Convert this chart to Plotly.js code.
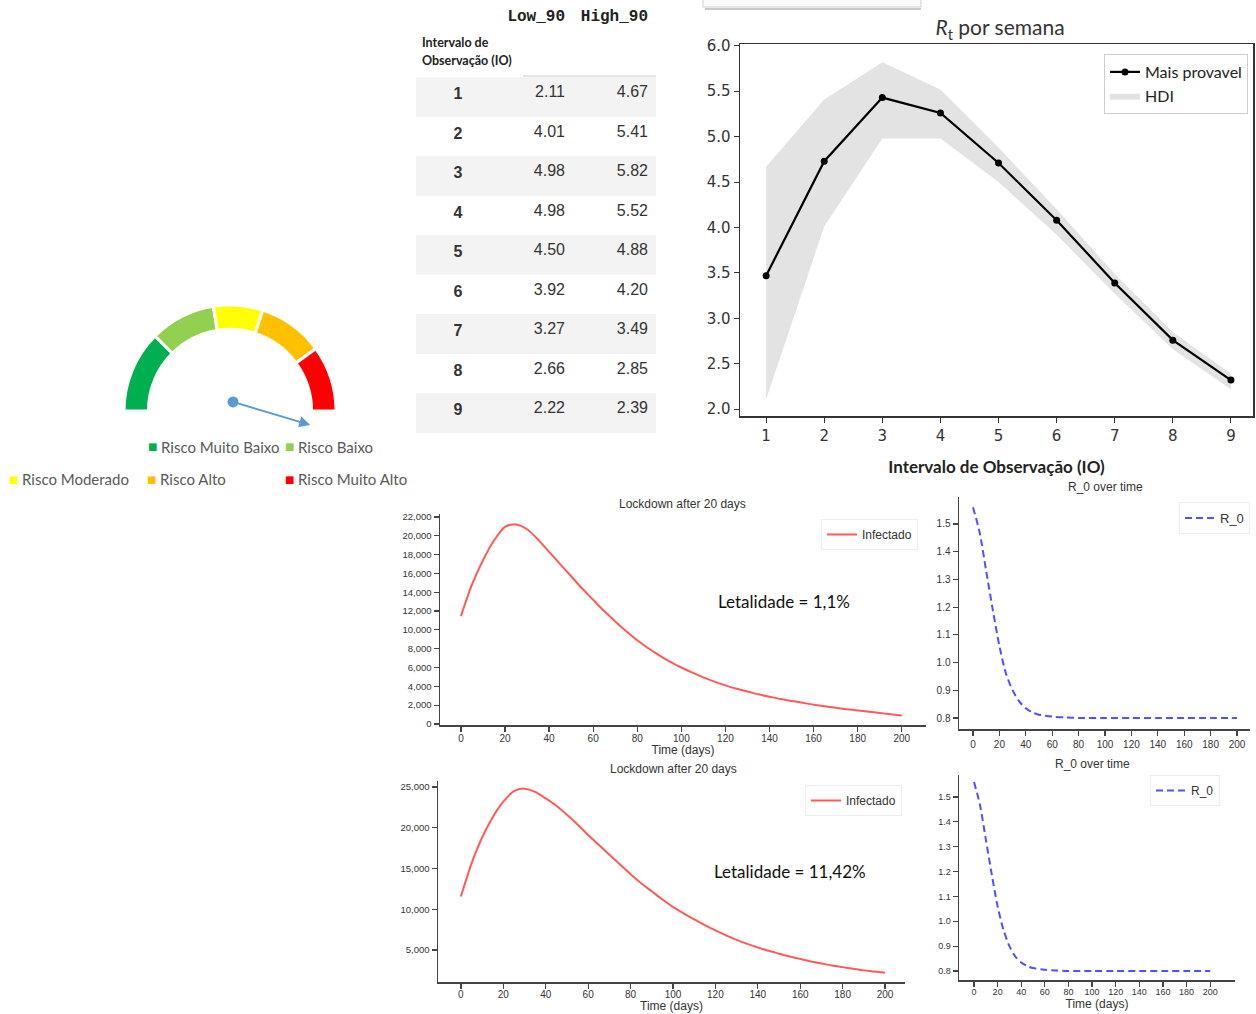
<!DOCTYPE html>
<html><head><meta charset="utf-8">
<script src="https://cdn.plot.ly/plotly-3.0.1.min.js"></script>
<style>html,body{margin:0;padding:0;background:#fff;} #chart{width:1256px;height:1014px;}</style>
</head><body><div id="chart"></div>
<script>
// ---------------- data ----------------
const ioIntervals = [1,2,3,4,5,6,7,8,9];
const low90  = [2.11,4.01,4.98,4.98,4.50,3.92,3.27,2.66,2.22];
const high90 = [4.67,5.41,5.82,5.52,4.88,4.20,3.49,2.85,2.39];
const rtMostLikely = [3.47,4.73,5.43,5.26,4.71,4.08,3.39,2.76,2.32];
const tableColumns = ['Low_90','High_90'];
const indexNameLines = ['Intervalo de','Observação (IO)'];

const infDays = [0,5,10,15,20,25,30,35,40,45,50,55,60,65,70,75,80,85,90,95,100,105,110,115,120,125,130,135,140,145,150,155,160,165,170,175,180,185,190,195,200];
const infected1 = [11460,14800,17400,19500,20950,21200,20700,19600,18300,17000,15700,14400,13200,12000,10900,9850,8900,8050,7300,6600,6000,5450,4950,4500,4100,3750,3450,3150,2900,2650,2450,2250,2050,1880,1720,1570,1440,1300,1170,1030,900];
const infected2 = [11560,15600,18800,21300,23200,24500,24800,24400,23600,22700,21600,20400,19100,17900,16700,15500,14300,13200,12200,11200,10300,9500,8750,8050,7400,6800,6250,5750,5300,4900,4550,4200,3900,3600,3350,3100,2900,2700,2500,2350,2200];

const r0Days = [0,5,10,15,20,25,30,35,40,45,50,60,70,80,100,120,140,160,180,200];
const r0Series1 = [1.56,1.47,1.33,1.19,1.06,0.96,0.90,0.86,0.835,0.82,0.812,0.805,0.802,0.80,0.80,0.80,0.80,0.80,0.80,0.80];
const r0Series2 = [1.56,1.47,1.33,1.19,1.06,0.965,0.90,0.858,0.834,0.82,0.812,0.805,0.802,0.80,0.80,0.80,0.80,0.80,0.80,0.80];
const dayTicks = [0,20,40,60,80,100,120,140,160,180,200];

const lethality1 = 'Letalidade = 1,1%';
const lethality2 = 'Letalidade = 11,42%';

const gaugeLabels = ['Risco Muito Baixo','Risco Baixo','Risco Moderado','Risco Alto','Risco Muito Alto'];
const gaugeShares = [25,20,15,20,20];
const gaugeColors = ['#00b050','#92d050','#ffff00','#ffc000','#ff0000'];
const needleAngleDeg = -16.6;

// ---------------- helpers ----------------
const W = 1256, H = 1014;
const px = v => v / W;
const py = v => 1 - v / H;
const sansFam = 'Liberation Sans, Arial, sans-serif';

function smallAxis(domain, range, extra) {
  return Object.assign({
    domain: domain, range: range, showline: true, linecolor: '#444', linewidth: 1.5,
    ticks: 'outside', ticklen: 5, tickcolor: '#444', tickwidth: 1.2, showgrid: false, zeroline: false,
    automargin: false, fixedrange: true,
    tickfont: {family: sansFam, size: 10, color: '#333'}
  }, extra);
}

const traces = [];

// table
const rowFill = ioIntervals.map((_, i) => i % 2 === 0 ? '#f3f3f3' : '#ffffff');
traces.push({
  type: 'table',
  domain: {x: [px(416), px(656)], y: [py(433), 1]},
  columnwidth: [84, 73, 83],
  header: {
    values: ['', '<b>' + tableColumns[0] + '</b>', '<b>' + tableColumns[1] + '</b>'],
    align: ['left', 'right', 'right'],
    height: 77,
    fill: {color: '#ffffff'},
    line: {color: '#ffffff', width: 0},
    font: {family: 'Liberation Mono, Courier New, monospace', size: 16, color: '#222'}
  },
  cells: {
    values: [ioIntervals.map(v => '<b>' + v + '</b>'), low90.map(v => v.toFixed(2)), high90.map(v => v.toFixed(2))],
    align: ['center', 'right', 'right'],
    height: 39.55,
    fill: {color: [rowFill, rowFill, rowFill]},
    line: {color: 'rgba(0,0,0,0)', width: 0},
    font: {family: sansFam, size: 16, color: '#333'}
  }
});

// Rt chart
traces.push({x: ioIntervals, y: low90, type: 'scatter', mode: 'lines', line: {width: 0, color: '#e2e2e2'}, showlegend: false, hoverinfo: 'skip', xaxis: 'x', yaxis: 'y'});
traces.push({x: ioIntervals, y: high90, type: 'scatter', mode: 'lines', fill: 'tonexty', fillcolor: '#e3e3e3', line: {width: 0, color: '#e3e3e3'}, name: 'HDI', legendrank: 2, xaxis: 'x', yaxis: 'y'});
traces.push({x: ioIntervals, y: rtMostLikely, type: 'scatter', mode: 'lines+markers', line: {color: '#000', width: 2.2}, marker: {color: '#000', size: 7}, name: 'Mais provavel', legendrank: 1, xaxis: 'x', yaxis: 'y'});

// lockdown charts
traces.push({x: infDays, y: infected1, type: 'scatter', mode: 'lines', line: {color: '#ff5a5a', width: 2, shape: 'spline', smoothing: 0.8}, name: 'Infectado', xaxis: 'x2', yaxis: 'y2', legend: 'legend2'});
traces.push({x: r0Days, y: r0Series1, type: 'scatter', mode: 'lines', line: {color: '#5050ff', width: 2, dash: '7px,4px', shape: 'spline', smoothing: 0.8}, name: 'R_0', xaxis: 'x3', yaxis: 'y3', legend: 'legend3'});
traces.push({x: infDays, y: infected2, type: 'scatter', mode: 'lines', line: {color: '#ff5a5a', width: 2, shape: 'spline', smoothing: 0.8}, name: 'Infectado', xaxis: 'x4', yaxis: 'y4', legend: 'legend4'});
traces.push({x: r0Days, y: r0Series2, type: 'scatter', mode: 'lines', line: {color: '#5050ff', width: 2, dash: '7px,4px', shape: 'spline', smoothing: 0.8}, name: 'R_0', xaxis: 'x5', yaxis: 'y5', legend: 'legend5'});

// gauge
const gaugeTotal = gaugeShares.reduce((a, b) => a + b, 0);
traces.push({
  type: 'pie', labels: gaugeLabels.concat(['']), values: gaugeShares.concat([gaugeTotal]),
  marker: {colors: gaugeColors.concat(['rgba(255,255,255,0)']), line: {color: gaugeColors.map(() => '#ffffff').concat(['rgba(255,255,255,0)']), width: gaugeColors.map(() => 3).concat([0])}},
  hole: 0.77, sort: false, direction: 'clockwise', rotation: -90, textinfo: 'none', hoverinfo: 'skip', showlegend: false,
  domain: {x: [px(124), px(336)], y: [py(517), py(305)]}
});
const pivot = [0.0286, 0.0857];
const needleLen = 0.76;
const tip = [pivot[0] + needleLen * Math.cos(needleAngleDeg * Math.PI / 180), pivot[1] + needleLen * Math.sin(needleAngleDeg * Math.PI / 180)];
traces.push({x: [pivot[0]], y: [pivot[1]], type: 'scatter', mode: 'markers', marker: {color: '#5b9bd5', size: 11}, showlegend: false, hoverinfo: 'skip', xaxis: 'x6', yaxis: 'y6'});

// ---------------- layout ----------------
const annotations = [];
const titleFont = {family: sansFam, size: 12, color: '#333'};
function note(text, x, y, font, xa, ya) {
  annotations.push({text: text, xref: 'paper', yref: 'paper', x: px(x), y: py(y), showarrow: false, font: font, xanchor: xa || 'center', yanchor: ya || 'middle'});
}
note('Lockdown after 20 days', 682, 504, titleFont);
note('Lockdown after 20 days', 673, 769, titleFont);
note('R_0 over time', 1105, 487, titleFont);
note('R_0 over time', 1092, 764, titleFont);
note(lethality1, 784, 601, {family: 'Lato', size: 17, color: '#111'});
note(lethality2, 790, 871, {family: 'Lato', size: 17, color: '#111'});
// table index name
note('<b>' + indexNameLines[0] + '</b>', 420, 43, {family: 'Lato', size: 12.5, color: '#222'}, 'left');
note('<b>' + indexNameLines[1] + '</b>', 420, 61, {family: 'Lato', size: 12.5, color: '#222'}, 'left');

// gauge legend
const legPos = [[152, 447], [289, 447], [13, 479], [151, 479], [289, 479]];
gaugeLabels.forEach((lab, i) => {
  note('■', legPos[i][0], legPos[i][1], {family: 'DejaVu Sans', size: 10, color: gaugeColors[i]});
  note(lab, legPos[i][0] + 7, legPos[i][1], {family: 'Lato', size: 15, color: '#595959'}, 'left');
});
// needle
annotations.push({text: '', xref: 'x6', yref: 'y6', x: tip[0], y: tip[1], axref: 'x6', ayref: 'y6', ax: pivot[0], ay: pivot[1], showarrow: true, arrowhead: 2, arrowsize: 1.1, arrowwidth: 2, arrowcolor: '#5b9bd5'});

const legendBase = {xanchor: 'right', yanchor: 'top', bordercolor: '#eeeeee', borderwidth: 1, bgcolor: '#fff', itemwidth: 30, traceorder: 'normal'};

const layout = {
  width: W, height: H, margin: {l: 0, r: 0, t: 0, b: 0}, paper_bgcolor: '#fff', plot_bgcolor: 'rgba(0,0,0,0)',
  showlegend: true,
  title: {text: '<i>R</i><sub>t</sub> por semana', x: px(1000), xanchor: 'center', y: py(28), yanchor: 'middle', font: {family: 'Lato', size: 21, color: '#333'}},
  xaxis: {domain: [px(740), px(1253)], range: [0.55, 9.38], dtick: 1, tick0: 1, showline: true, mirror: true, linecolor: '#333', linewidth: 1.5, ticks: 'outside', ticklen: 5, tickcolor: '#333', showgrid: false, zeroline: false, automargin: false, fixedrange: true,
          tickfont: {family: 'DejaVu Sans', size: 15, color: '#333'},
          title: {text: '<b>Intervalo de Observação (IO)</b>', font: {family: 'Lato', size: 17, color: '#222'}, standoff: 17}},
  yaxis: {domain: [py(416), py(44)], range: [1.925, 6.02], dtick: 0.5, tick0: 2, tickformat: '.1f', showline: true, mirror: true, linecolor: '#333', linewidth: 1.5, ticks: 'outside', ticklen: 5, tickcolor: '#333', showgrid: false, zeroline: false, automargin: false, fixedrange: true,
          tickfont: {family: 'DejaVu Sans', size: 15, color: '#333'}},
  xaxis2: smallAxis([px(440), px(926)], [-9.5, 211], {anchor: 'y2', tickvals: dayTicks, ticklabelstandoff: -2, title: {text: 'Time (days)', font: titleFont, standoff: 1}}),
  yaxis2: smallAxis([py(725), py(514)], [-110, 22320], {anchor: 'x2', dtick: 2000, tick0: 0, tickformat: ',d', tickfont: {family: sansFam, size: 9.5, color: '#333'}}),
  xaxis3: smallAxis([px(959), px(1250)], [-10.6, 209.8], {anchor: 'y3', tickvals: dayTicks}),
  yaxis3: smallAxis([py(729), py(497)], [0.7603, 1.5974], {anchor: 'x3', dtick: 0.1, tick0: 0.8, tickformat: '.1f'}),
  xaxis4: smallAxis([px(438), px(905)], [-10.8, 209.4], {anchor: 'y4', tickvals: dayTicks, ticklabelstandoff: -3, title: {text: 'Time (days)', font: titleFont, standoff: 1}}),
  yaxis4: smallAxis([py(982), py(781)], [1074, 25736], {anchor: 'x4', dtick: 5000, tick0: 0, tickformat: ',d', tickfont: {family: sansFam, size: 9.5, color: '#333'}}),
  xaxis5: smallAxis([px(959), px(1235)], [-12.7, 221], {anchor: 'y5', tickvals: dayTicks, ticklabelstandoff: -2, tickfont: {family: sansFam, size: 9, color: '#333'}, title: {text: 'Time (days)', font: titleFont, standoff: 1}}),
  yaxis5: smallAxis([py(980), py(775)], [0.7638, 1.5885], {anchor: 'x5', dtick: 0.1, tick0: 0.8, tickformat: '.1f', tickfont: {family: sansFam, size: 9, color: '#333'}}),
  xaxis6: {domain: [px(124), px(336)], range: [-1, 1], visible: false, fixedrange: true, anchor: 'y6'},
  yaxis6: {domain: [py(517), py(305)], range: [-1, 1], visible: false, fixedrange: true, anchor: 'x6'},
  legend: Object.assign({}, legendBase, {x: px(1248), y: py(54), bordercolor: '#cccccc', bgcolor: 'rgba(255,255,255,0.85)', font: {family: 'Lato', size: 16, color: '#222'}}),
  legend2: Object.assign({}, legendBase, {x: px(918), y: py(519), font: {family: sansFam, size: 12, color: '#333'}}),
  legend3: Object.assign({}, legendBase, {x: px(1250), y: py(502), font: {family: sansFam, size: 13, color: '#333'}}),
  legend4: Object.assign({}, legendBase, {x: px(902), y: py(785), font: {family: sansFam, size: 12, color: '#333'}}),
  legend5: Object.assign({}, legendBase, {x: px(1220), y: py(775), font: {family: sansFam, size: 12, color: '#333'}}),
  annotations: annotations,
  shapes: [
    {type: 'rect', xref: 'paper', yref: 'paper', x0: px(703), x1: px(921), y0: py(7), y1: 1.02, fillcolor: '#fafafa', line: {color: '#cfcfcf', width: 1}, layer: 'below'},
    {type: 'line', xref: 'paper', yref: 'paper', x0: px(705), x1: px(921), y0: py(9), y1: py(9), line: {color: '#c8c8c8', width: 2}, layer: 'below'},
    {type: 'line', xref: 'paper', yref: 'paper', x0: px(523), x1: px(656), y0: py(76), y1: py(76), line: {color: '#dddddd', width: 1.5}, layer: 'above'}
  ]
};

Plotly.newPlot('chart', traces, layout, {displayModeBar: false, staticPlot: true});
</script></body></html>
